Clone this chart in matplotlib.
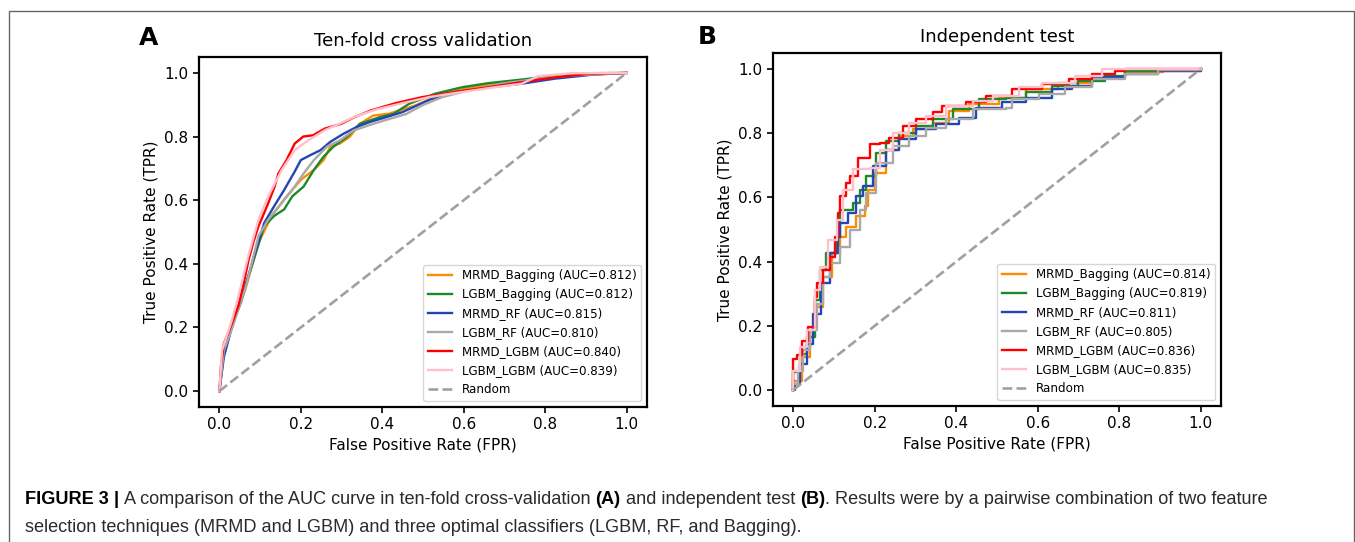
import matplotlib
matplotlib.use("Agg")
import matplotlib.pyplot as plt
from matplotlib.patches import Rectangle

# ---------------- data ----------------
names = ["MRMD_Bagging", "LGBM_Bagging", "MRMD_RF", "LGBM_RF", "MRMD_LGBM", "LGBM_LGBM"]
colors = ["darkorange", "#1a8a2a", "#2445b5", "darkgray", "red", "pink"]

auc_cv = [0.812, 0.812, 0.815, 0.810, 0.840, 0.839]
auc_test = [0.814, 0.819, 0.811, 0.805, 0.836, 0.835]

# Ten-fold cross validation (panel A)
cv_mrmd_bagging_fpr = [0, 0.011, 0.035, 0.064, 0.096, 0.128, 0.159, 0.2, 0.232, 0.256, 0.272, 0.296, 0.32, 0.345, 0.378, 0.417, 0.482, 0.547, 0.612, 0.677, 0.742, 0.824, 1.0]
cv_mrmd_bagging_tpr = [0, 0.117, 0.222, 0.321, 0.466, 0.55, 0.602, 0.664, 0.695, 0.726, 0.768, 0.778, 0.799, 0.84, 0.866, 0.872, 0.898, 0.935, 0.953, 0.966, 0.976, 0.989, 1.0]
cv_lgbm_bagging_fpr = [0, 0.011, 0.035, 0.047, 0.077, 0.11, 0.134, 0.159, 0.179, 0.207, 0.232, 0.256, 0.28, 0.313, 0.345, 0.394, 0.427, 0.466, 0.531, 0.596, 0.661, 0.742, 0.824, 0.905, 1.0]
cv_lgbm_bagging_tpr = [0, 0.128, 0.232, 0.269, 0.383, 0.518, 0.55, 0.571, 0.612, 0.643, 0.695, 0.737, 0.768, 0.799, 0.84, 0.861, 0.871, 0.903, 0.935, 0.955, 0.968, 0.979, 0.992, 0.999, 1.0]
cv_mrmd_rf_fpr = [0, 0.011, 0.035, 0.053, 0.085, 0.11, 0.134, 0.159, 0.185, 0.2, 0.224, 0.248, 0.272, 0.305, 0.337, 0.37, 0.41, 0.45, 0.515, 0.58, 0.661, 0.742, 0.824, 0.921, 1.0]
cv_mrmd_rf_tpr = [0, 0.107, 0.222, 0.279, 0.424, 0.528, 0.58, 0.632, 0.69, 0.726, 0.742, 0.757, 0.783, 0.809, 0.83, 0.846, 0.861, 0.877, 0.915, 0.94, 0.955, 0.966, 0.982, 0.995, 1.0]
cv_lgbm_rf_fpr = [0, 0.011, 0.035, 0.067, 0.096, 0.12, 0.153, 0.185, 0.207, 0.232, 0.264, 0.296, 0.329, 0.378, 0.419, 0.459, 0.498, 0.547, 0.612, 0.693, 0.783, 0.864, 1.0]
cv_lgbm_rf_tpr = [0, 0.128, 0.211, 0.337, 0.487, 0.539, 0.591, 0.643, 0.684, 0.726, 0.768, 0.788, 0.819, 0.84, 0.856, 0.871, 0.898, 0.924, 0.945, 0.966, 0.982, 0.992, 1.0]
cv_mrmd_lgbm_fpr = [0, 0.004, 0.011, 0.03, 0.047, 0.06, 0.072, 0.084, 0.096, 0.11, 0.12, 0.135, 0.145, 0.165, 0.185, 0.206, 0.23, 0.259, 0.299, 0.332, 0.372, 0.433, 0.498, 0.58, 0.661, 0.742, 0.824, 0.905, 1.0]
cv_mrmd_lgbm_tpr = [0, 0.08, 0.149, 0.21, 0.269, 0.34, 0.414, 0.47, 0.518, 0.56, 0.591, 0.64, 0.684, 0.726, 0.778, 0.8, 0.804, 0.825, 0.84, 0.861, 0.882, 0.905, 0.924, 0.94, 0.955, 0.971, 0.986, 0.997, 1.0]
cv_lgbm_lgbm_fpr = [0, 0.0065, 0.03, 0.047, 0.07, 0.096, 0.12, 0.153, 0.185, 0.218, 0.259, 0.291, 0.332, 0.385, 0.45, 0.515, 0.596, 0.677, 0.742, 0.783, 0.864, 1.0]
cv_lgbm_lgbm_tpr = [0, 0.128, 0.22, 0.3, 0.42, 0.539, 0.612, 0.695, 0.757, 0.788, 0.82, 0.838, 0.862, 0.885, 0.905, 0.924, 0.94, 0.955, 0.966, 0.99, 0.999, 1.0]

# Independent test (panel B)
it_mrmd_bagging_fpr = [0, 0, 0.02, 0.041, 0.053, 0.073, 0.094, 0.114, 0.13, 0.155, 0.175, 0.183, 0.2, 0.228, 0.26, 0.293, 0.342, 0.383, 0.432, 0.505, 0.57, 0.651, 0.733, 0.814, 0.908, 1.0]
it_mrmd_bagging_tpr = [0, 0.029, 0.102, 0.186, 0.259, 0.353, 0.426, 0.478, 0.509, 0.541, 0.572, 0.624, 0.676, 0.749, 0.791, 0.812, 0.833, 0.87, 0.89, 0.911, 0.937, 0.958, 0.974, 0.99, 0.995, 1.0]
it_lgbm_bagging_fpr = [0, 0, 0.016, 0.033, 0.053, 0.065, 0.081, 0.106, 0.114, 0.147, 0.163, 0.179, 0.204, 0.228, 0.26, 0.301, 0.342, 0.391, 0.456, 0.521, 0.57, 0.635, 0.7, 0.765, 0.814, 0.896, 1.0]
it_lgbm_bagging_tpr = [0, 0.055, 0.113, 0.165, 0.28, 0.374, 0.426, 0.478, 0.562, 0.582, 0.624, 0.666, 0.739, 0.776, 0.802, 0.823, 0.843, 0.875, 0.906, 0.911, 0.927, 0.948, 0.963, 0.979, 0.995, 0.998, 1.0]
it_mrmd_rf_fpr = [0, 0.004, 0.016, 0.033, 0.049, 0.069, 0.09, 0.11, 0.114, 0.134, 0.155, 0.171, 0.195, 0.228, 0.26, 0.301, 0.35, 0.407, 0.448, 0.513, 0.57, 0.635, 0.684, 0.733, 0.814, 0.896, 1.0]
it_mrmd_rf_tpr = [0, 0.019, 0.081, 0.144, 0.238, 0.332, 0.426, 0.478, 0.52, 0.551, 0.603, 0.635, 0.697, 0.749, 0.781, 0.812, 0.828, 0.849, 0.88, 0.896, 0.911, 0.937, 0.948, 0.974, 0.984, 0.995, 1.0]
it_lgbm_rf_fpr = [0, 0, 0.012, 0.024, 0.041, 0.057, 0.073, 0.09, 0.114, 0.138, 0.163, 0.179, 0.204, 0.244, 0.285, 0.326, 0.375, 0.44, 0.521, 0.537, 0.603, 0.668, 0.733, 0.814, 0.896, 1.0]
it_lgbm_rf_tpr = [0, 0.019, 0.06, 0.123, 0.186, 0.269, 0.353, 0.395, 0.447, 0.499, 0.562, 0.614, 0.708, 0.76, 0.791, 0.817, 0.843, 0.875, 0.88, 0.906, 0.922, 0.943, 0.969, 0.984, 0.998, 1.0]
it_mrmd_lgbm_fpr = [0, 0, 0.008, 0.02, 0.037, 0.053, 0.057, 0.073, 0.09, 0.102, 0.11, 0.115, 0.13, 0.139, 0.159, 0.187, 0.212, 0.236, 0.269, 0.302, 0.343, 0.366, 0.423, 0.472, 0.537, 0.611, 0.676, 0.733, 0.79, 0.814, 1.0]
it_mrmd_lgbm_tpr = [0, 0.097, 0.108, 0.154, 0.196, 0.29, 0.332, 0.374, 0.415, 0.478, 0.551, 0.604, 0.645, 0.667, 0.724, 0.766, 0.771, 0.786, 0.823, 0.844, 0.865, 0.885, 0.896, 0.917, 0.937, 0.953, 0.969, 0.984, 0.995, 1.0, 1.0]
it_lgbm_lgbm_fpr = [0, 0, 0.016, 0.033, 0.053, 0.065, 0.086, 0.106, 0.122, 0.147, 0.187, 0.212, 0.244, 0.285, 0.326, 0.375, 0.44, 0.489, 0.554, 0.611, 0.692, 0.757, 1.0]
it_lgbm_lgbm_tpr = [0, 0.06, 0.134, 0.186, 0.311, 0.384, 0.468, 0.53, 0.624, 0.687, 0.692, 0.749, 0.802, 0.833, 0.854, 0.885, 0.901, 0.917, 0.943, 0.958, 0.979, 1.0, 1.0]

cv_fpr = [cv_mrmd_bagging_fpr, cv_lgbm_bagging_fpr, cv_mrmd_rf_fpr, cv_lgbm_rf_fpr, cv_mrmd_lgbm_fpr, cv_lgbm_lgbm_fpr]
cv_tpr = [cv_mrmd_bagging_tpr, cv_lgbm_bagging_tpr, cv_mrmd_rf_tpr, cv_lgbm_rf_tpr, cv_mrmd_lgbm_tpr, cv_lgbm_lgbm_tpr]
it_fpr = [it_mrmd_bagging_fpr, it_lgbm_bagging_fpr, it_mrmd_rf_fpr, it_lgbm_rf_fpr, it_mrmd_lgbm_fpr, it_lgbm_lgbm_fpr]
it_tpr = [it_mrmd_bagging_tpr, it_lgbm_bagging_tpr, it_mrmd_rf_tpr, it_lgbm_rf_tpr, it_mrmd_lgbm_tpr, it_lgbm_lgbm_tpr]

ticks = [0.0, 0.2, 0.4, 0.6, 0.8, 1.0]
titles = ["Ten-fold cross validation", "Independent test"]
panel_letters = ["A", "B"]

caption_line1 = [
    ("FIGURE 3", "bold"), (" | ", "bold"),
    ("A comparison of the AUC curve in ten-fold cross-validation ", "normal"),
    ("(A)", "bold"), (" and independent test ", "normal"), ("(B)", "bold"),
    (". Results were by a pairwise combination of two feature", "normal"),
]
caption_line2 = "selection techniques (MRMD and LGBM) and three optimal classifiers (LGBM, RF, and Bagging)."

# ---------------- figure ----------------
W, H = 1355, 542
fig = plt.figure(figsize=(W / 100, H / 100), dpi=100)

def fx(px):
    return px / W

def fy(py):
    return 1 - py / H

# outer frame
fig.patches.append(Rectangle((fx(9), fy(560)), fx(1345), fy(11) - fy(560),
                             transform=fig.transFigure, fill=False,
                             edgecolor="#666666", lw=1.0, clip_on=False))

axA = fig.add_axes([fx(199), fy(407), fx(448), fy(57) - fy(407)])
axB = fig.add_axes([fx(773), fy(406), fx(448), fy(53) - fy(406)])

panels = [(axA, cv_fpr, cv_tpr, auc_cv, None), (axB, it_fpr, it_tpr, auc_test, "steps-post")]
for i, (ax, F, T, A, ds) in enumerate(panels):
    for name, col, f, t, a in zip(names, colors, F, T, A):
        kw = {}
        if ds:
            kw["drawstyle"] = ds
        ax.plot(f, t, color=col, lw=1.7, label=f"{name} (AUC={a:.3f})", **kw)
    ax.plot([0, 1], [0, 1], color="#a0a0a0", lw=1.9, ls="--", label="Random")
    ax.set_xticks(ticks)
    ax.set_yticks(ticks)
    ax.tick_params(labelsize=11, width=1.2, length=4)
    for s in ax.spines.values():
        s.set_linewidth(1.6)
    ax.set_xlabel("False Positive Rate (FPR)", fontsize=11)
    ax.set_ylabel("True Positive Rate (TPR)", fontsize=11)
    ax.set_title(titles[i], fontsize=13, pad=8)
    ax.legend(loc="lower right", fontsize=8.6, handlelength=2.0)

fig.text(fx(149), fy(38), panel_letters[0], fontsize=18, fontweight="bold", ha="center", va="center")
fig.text(fx(707), fy(37), panel_letters[1], fontsize=18, fontweight="bold", ha="center", va="center")

# caption
cap_font = "Liberation Sans"
cap_size = 13.1
cap_color = "#2a2a2a"
fig.canvas.draw()
renderer = fig.canvas.get_renderer()
x = 25
for txt, wt in caption_line1:
    t = fig.text(fx(x), fy(500), txt, fontsize=cap_size, family=cap_font, fontweight=wt,
                 color="black" if wt == "bold" else cap_color, va="center", ha="left")
    bb = t.get_window_extent(renderer=renderer)
    x += bb.width
fig.text(fx(25), fy(527), caption_line2, fontsize=cap_size, family=cap_font,
         color=cap_color, va="center", ha="left")

fig.savefig("out.png", dpi=100)
